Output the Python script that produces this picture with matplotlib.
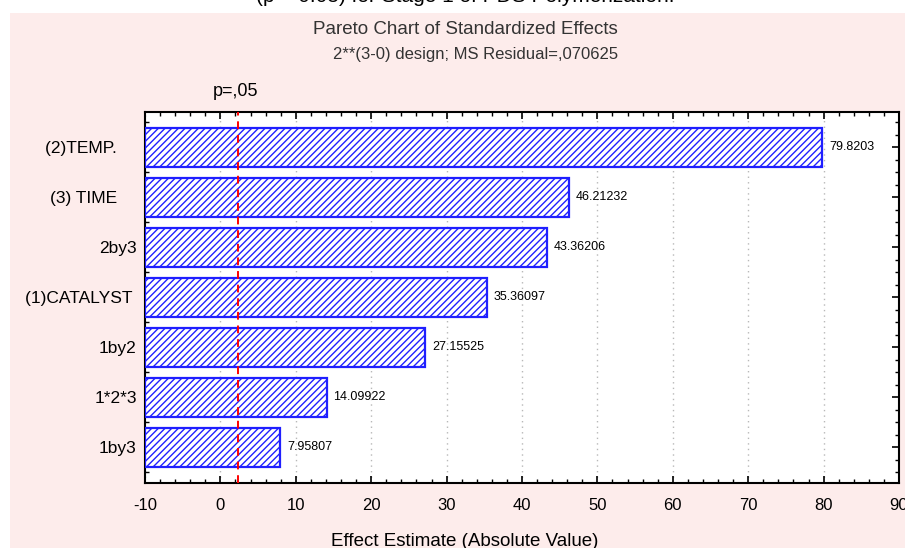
import matplotlib.pyplot as plt
from matplotlib.patches import Rectangle
from matplotlib.ticker import MultipleLocator

plt.rcParams["font.family"] = ["Liberation Sans", "DejaVu Sans"]
plt.rcParams["hatch.linewidth"] = 1.0

# effects, smallest first so the largest sits on top
effects = ["1by3", "1*2*3", "1by2", "(1)CATALYST ", "2by3", "(3) TIME    ", "(2)TEMP.    "]
estimates = [7.95807, 14.09922, 27.15525, 35.36097, 43.36206, 46.21232, 79.8203]
value_labels = ["7.95807", "14.09922", "27.15525", "35.36097", "43.36206", "46.21232", "79.8203"]
t_crit = 2.306  # p = .05
x_ticks = [-10, 0, 10, 20, 30, 40, 50, 60, 70, 80, 90]

BLUE = "#1f1fff"
PINK = "#fdeceb"

fig = plt.figure(figsize=(9.05, 5.48), dpi=100)
fig.patch.set_facecolor("white")
bg = Rectangle((10 / 905, 0), 1, 1 - 13 / 548, transform=fig.transFigure,
               facecolor=PINK, edgecolor="none", zorder=-10)
fig.patches.append(bg)

ax = fig.add_axes([145 / 905, 1 - 483 / 548, 754 / 905, 371 / 548])
ax.set_facecolor("white")
ax.set_zorder(5)

ypos = list(range(len(effects)))
# bars start at the left edge of the axis (-10)
bars = ax.barh(ypos, [e + 10 for e in estimates], left=-10, height=0.78, color="white",
               edgecolor=BLUE, hatch="/////", linewidth=1.6, zorder=3)

for y, v, s in zip(ypos, estimates, value_labels):
    ax.text(v + 0.9, y, s, fontsize=9, va="center", ha="left", color="black", zorder=4)

ax.axvline(t_crit, color="red", linestyle=(0, (4, 3)), linewidth=1.4, zorder=4)

ax.set_xlim(-10, 90)
ax.set_ylim(-0.72, 6.7)
ax.xaxis.set_minor_locator(MultipleLocator(2))
ax.yaxis.set_minor_locator(MultipleLocator(0.25))
ax.set_xticks(x_ticks)
ax.set_xticklabels([str(t) for t in x_ticks], fontsize=12)
ax.set_yticks(ypos)
ax.set_yticklabels(effects, fontsize=12.5)
ax.tick_params(axis="both", which="both", direction="in", top=True, right=True)
ax.tick_params(axis="both", which="major", length=5, width=1.2)
ax.tick_params(axis="both", which="minor", length=3, width=1.0)
ax.tick_params(axis="x", pad=11)
ax.tick_params(axis="y", pad=6)
ax.grid(axis="x", which="major", color="#b8b8b8", linestyle=(0, (1, 3)), linewidth=1.0, zorder=1)
for sp in ax.spines.values():
    sp.set_linewidth(1.5)
    sp.set_color("black")

ax.set_xlabel("Effect Estimate (Absolute Value)", fontsize=13.5)
ax.xaxis.set_label_coords(0.424, -0.135)

fig.text(465 / 905, 1 - 30 / 548, "Pareto Chart of Standardized Effects",
         ha="center", va="center", fontsize=13.5, color="#333333")
fig.text(476 / 905, 1 - 54 / 548, "2**(3-0) design; MS Residual=,070625",
         ha="center", va="center", fontsize=12, color="#333333")
fig.text(236 / 905, 1 - 92 / 548, "p=,05", ha="center", va="center", fontsize=13, color="black")
fig.text(465 / 905, 1 + 3 / 548, "(p = 0.05) for Stage 1 of PDS Polymerization.",
         ha="center", va="center", fontsize=15, color="black")

fig.savefig("out.png", dpi=100)
